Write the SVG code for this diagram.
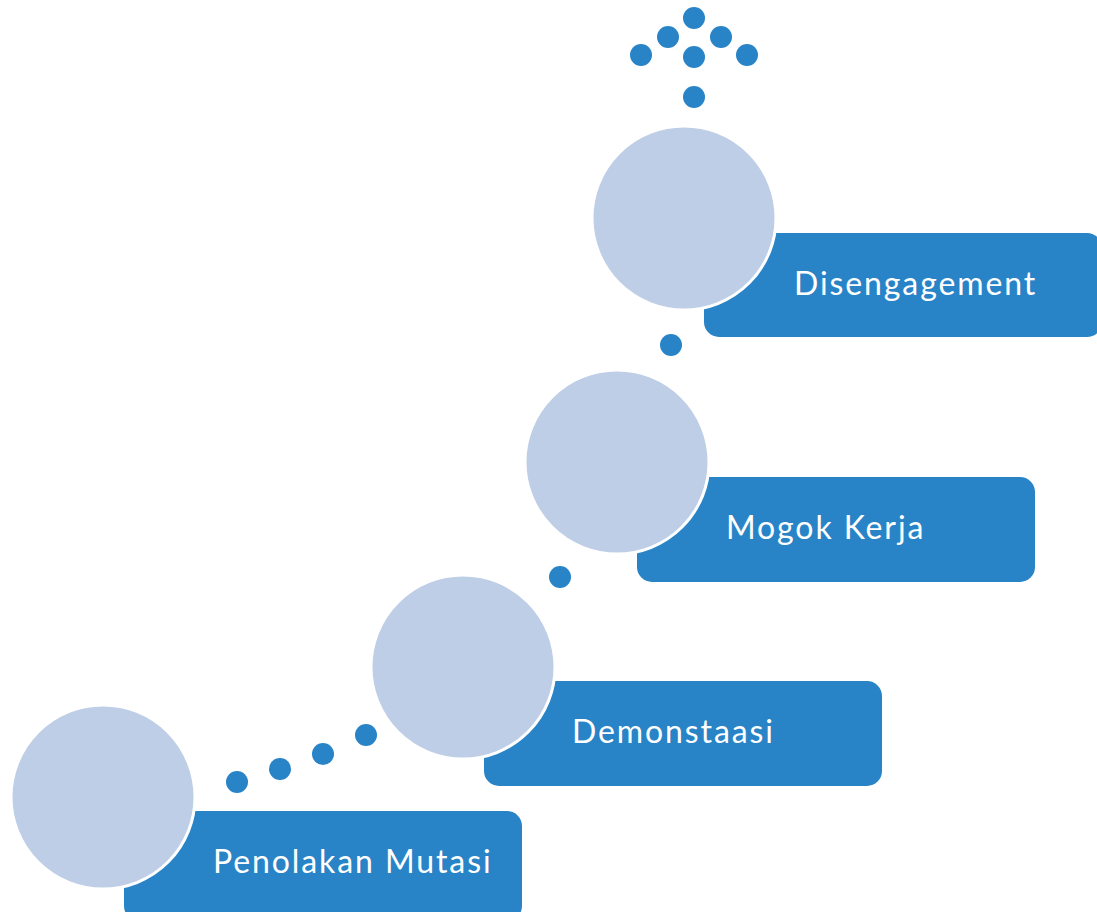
<svg xmlns="http://www.w3.org/2000/svg" width="1097" height="912" viewBox="0 0 1097 912">
<style>
.box{fill:#2984C7}
.circ{fill:#BECEE6;stroke:#FFFFFF;stroke-width:3}
.dot{fill:#2984C7}
.lbl{fill:#FFFFFF;font-family:Lato,"Open Sans",sans-serif;font-size:32px;letter-spacing:1.9px}
</style>
<rect width="1097" height="912" fill="#FFFFFF"/>
<g id="connectors">
<circle class="dot" cx="237" cy="782" r="11"/>
<circle class="dot" cx="280" cy="769" r="11"/>
<circle class="dot" cx="323" cy="754" r="11"/>
<circle class="dot" cx="366" cy="735" r="11"/>
<circle class="dot" cx="560" cy="577" r="11"/>
<circle class="dot" cx="671" cy="345" r="11"/>
<circle class="dot" cx="694" cy="97" r="11"/>
<circle class="dot" cx="641" cy="55" r="11"/>
<circle class="dot" cx="694" cy="57" r="11"/>
<circle class="dot" cx="747" cy="55" r="11"/>
<circle class="dot" cx="668" cy="37" r="11"/>
<circle class="dot" cx="721" cy="37" r="11"/>
<circle class="dot" cx="694" cy="18" r="11"/>
</g>
<g id="node-penolakan">
<rect class="box" x="124" y="811" width="398" height="110" rx="15"/>
<circle class="circ" cx="103" cy="797" r="92"/>
<text class="lbl" x="213" y="873">Penolakan Mutasi</text>
</g>
<g id="node-demonstaasi">
<rect class="box" x="484" y="681" width="398" height="105" rx="15"/>
<circle class="circ" cx="463" cy="667" r="92"/>
<text class="lbl" x="572" y="743">Demonstaasi</text>
</g>
<g id="node-mogok">
<rect class="box" x="637" y="477" width="398" height="105" rx="15"/>
<circle class="circ" cx="617" cy="462" r="92"/>
<text class="lbl" x="726" y="539">Mogok Kerja</text>
</g>
<g id="node-disengagement">
<rect class="box" x="704" y="233" width="398" height="104" rx="15"/>
<circle class="circ" cx="684" cy="218" r="92"/>
<text class="lbl" x="794" y="295">Disengagement</text>
</g>
</svg>
